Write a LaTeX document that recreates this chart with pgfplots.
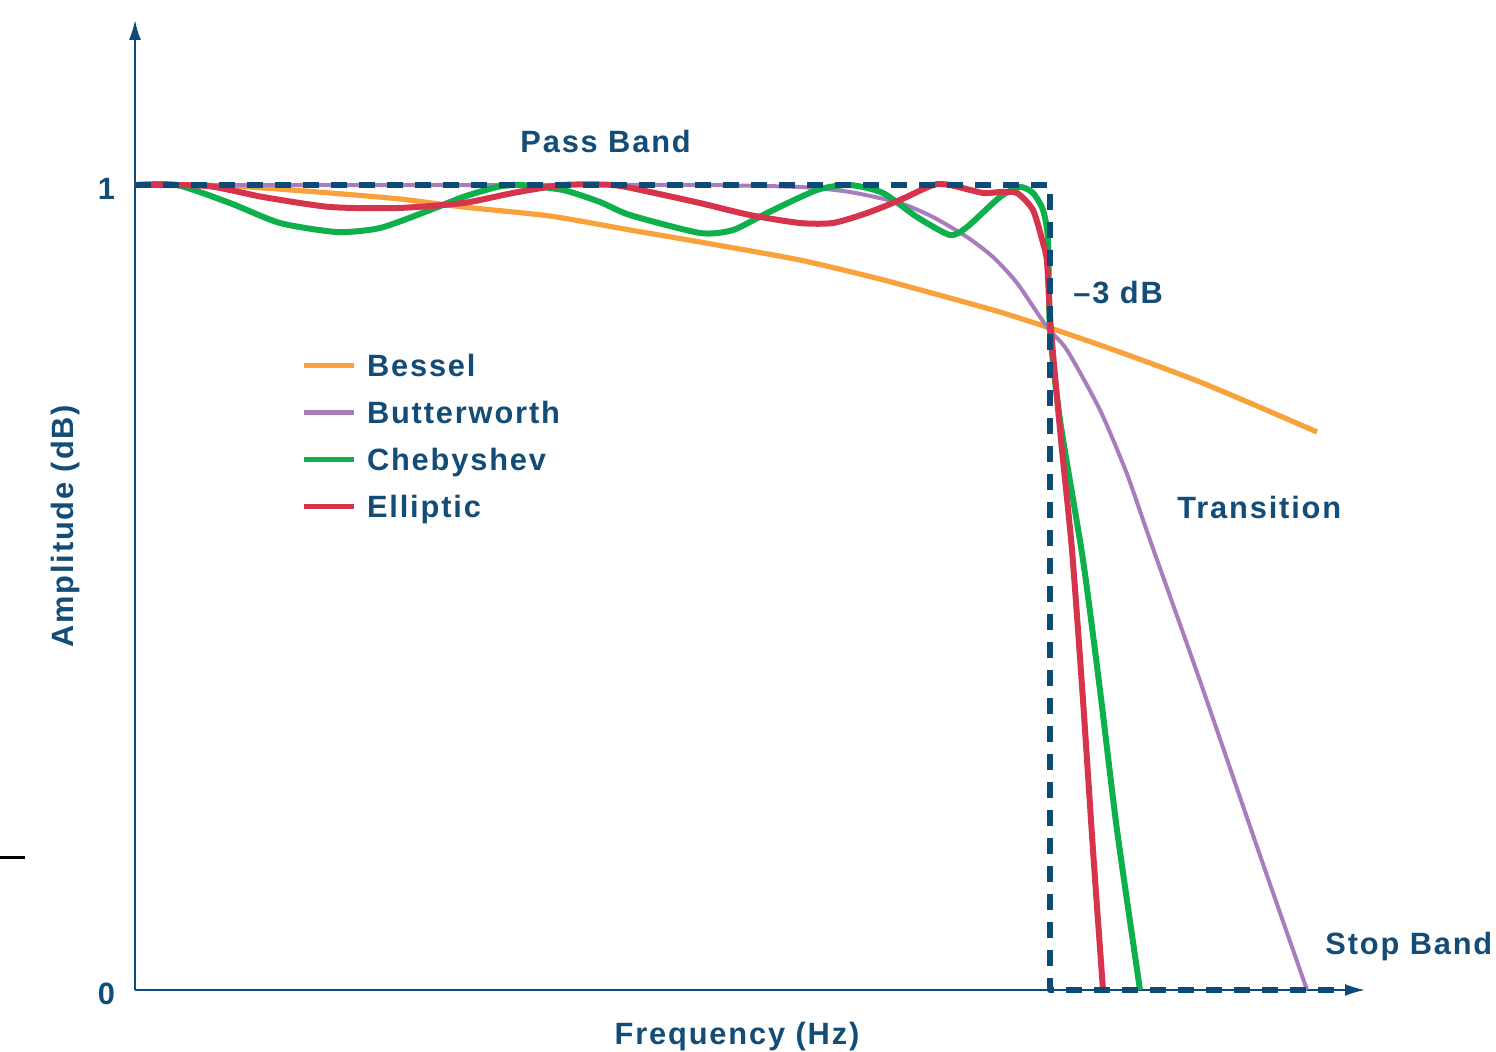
\documentclass[border=0pt]{standalone}
\usepackage{pgfplots}
\pgfplotsset{compat=1.18}
\usetikzlibrary{arrows.meta}
\usepackage{fontspec}
\setmainfont{Liberation Sans}[LetterSpace=6]
\definecolor{navy}{HTML}{0C4A77}
\definecolor{navyt}{HTML}{134C76}
\definecolor{cbessel}{HTML}{F9A13A}
\definecolor{cbutter}{HTML}{A77DBE}
\definecolor{ccheby}{HTML}{0DB04B}
\definecolor{cellip}{HTML}{D6334C}
\newcommand\lab{\fontsize{15.4}{18}\selectfont\bfseries}
\begin{document}
\begin{tikzpicture}
\useasboundingbox (0,0) rectangle (748pt,525.5pt);
\begin{axis}[
  at={(67.5pt,30.5pt)}, anchor=south west,
  scale only axis, width=615pt, height=485pt,
  xmin=135, xmax=1365, ymin=0, ymax=1.205,
  clip=false,
  axis x line=bottom, axis y line=left,
  axis line style={navy, line width=1pt, -{Latex[length=10pt,width=6pt]}},
  xtick=\empty, ytick={0,1}, yticklabels={0,1},
  major tick length=0pt,
  yticklabel style={anchor=base east, inner sep=0pt, xshift=-9.75pt, yshift=-7pt, font=\lab, text=navyt},
  line join=round,
  legend style={at={(axis cs:301,0.790)}, anchor=north west, draw=none, fill=none,
    inner sep=0pt, outer sep=0pt, row sep=9pt, font=\lab, text=navyt,
    nodes={inner sep=0pt, text height=11pt, text depth=3.5pt},
    /tikz/every odd column/.style={column sep=5.5pt}},
  legend cell align=left,
  legend image code/.code={\draw[#1, line width=2.5pt] (0pt,1.5pt) -- (25pt,1.5pt);},
]
% Bessel
\addplot[cbessel, line width=2.6pt, smooth, tension=0.4] coordinates {
(135,1.000) (200,1.000) (250,0.9975) (330,0.9901) (400,0.9826) (463,0.9727)
(550,0.9615) (630,0.9441) (700,0.9292) (800,0.9068) (880,0.8832) (950,0.8596)
(1000,0.8422) (1050,0.8224) (1100,0.8012) (1150,0.7789) (1200,0.7553)
(1250,0.7292) (1317,0.6932)};
\addlegendentry{Bessel}
% Butterworth
\addplot[cbutter, line width=2pt, smooth, tension=0.4] coordinates {
(135,1.000) (500,1.000) (700,1.000) (800,0.9975) (850,0.9913) (900,0.9776)
(933,0.9602) (967,0.9354) (993,0.9106) (1017,0.8783) (1047,0.8236)
(1067,0.7950) (1100,0.7205) (1127,0.6410) (1150,0.5590) (1200,0.3840)
(1257,0.1780) (1307,0.000)};
\addlegendentry{Butterworth}
% Chebyshev
\addplot[ccheby, line width=3pt, smooth, tension=0.4] coordinates {
(135,1.000) (177,1.000) (230,0.9776) (280,0.9528) (337,0.9416) (380,0.9466)
(430,0.9689) (463,0.9851) (497,0.9975) (520,1.000) (563,0.9938) (600,0.9789)
(630,0.9627) (700,0.9404) (733,0.9441) (767,0.9652) (817,0.9938) (850,1.000)
(883,0.9901) (917,0.9602) (950,0.9379) (967,0.9478) (1000,0.9851)
(1020,0.9975) (1033,0.9901) (1043,0.9689) (1048,0.9320) (1050,0.8199)
(1060,0.7081) (1083,0.5342) (1100,0.3727) (1117,0.1988) (1140,0.000)};
\addlegendentry{Chebyshev}
% Elliptic
\addplot[cellip, line width=3pt, smooth, tension=0.4] coordinates {
(135,1.000) (207,0.9988) (263,0.9851) (330,0.9727) (397,0.9714) (463,0.9776)
(513,0.9901) (563,1.000) (613,1.000) (650,0.9913) (700,0.9776) (750,0.9627)
(800,0.9528) (833,0.9528) (867,0.9652) (900,0.9814) (933,1.000) (950,1.000)
(983,0.9901) (1000,0.9913) (1017,0.9901) (1033,0.9689) (1043,0.9280)
(1047,0.9043) (1051,0.8199) (1061,0.6832) (1072,0.5466) (1083,0.3602)
(1093,0.1739) (1103,0.000)};
\addlegendentry{Elliptic}
% ideal response
\addplot[navy, line width=3pt, dash pattern=on 8pt off 6pt, line cap=butt, forget plot] coordinates {
(135,1) (1050,1) (1050,0) (1345,0)};
\node[anchor=base west, inner sep=0pt, font=\lab, text=navyt] at (axis cs:520,1.041) {Pass Band};
\node[anchor=base west, inner sep=0pt, font=\lab, text=navyt] at (axis cs:1073,0.853) {–3 dB};
\node[anchor=base west, inner sep=0pt, font=\lab, text=navyt] at (axis cs:1177,0.586) {Transition};
\node[anchor=base west, inner sep=0pt, font=\lab, text=navyt] at (axis cs:1325,0.0435) {Stop Band};
\node[anchor=base, inner sep=0pt, rotate=90, font=\lab, text=navyt] at (axis cs:73,0.576) {Amplitude (dB)};
\node[anchor=base, inner sep=0pt, font=\lab, text=navyt] at (axis cs:737,-0.0671) {Frequency (Hz)};
\draw[black, line width=1.5pt] (axis cs:0,0.165) -- (axis cs:25,0.165);
\end{axis}
\end{tikzpicture}
\end{document}
